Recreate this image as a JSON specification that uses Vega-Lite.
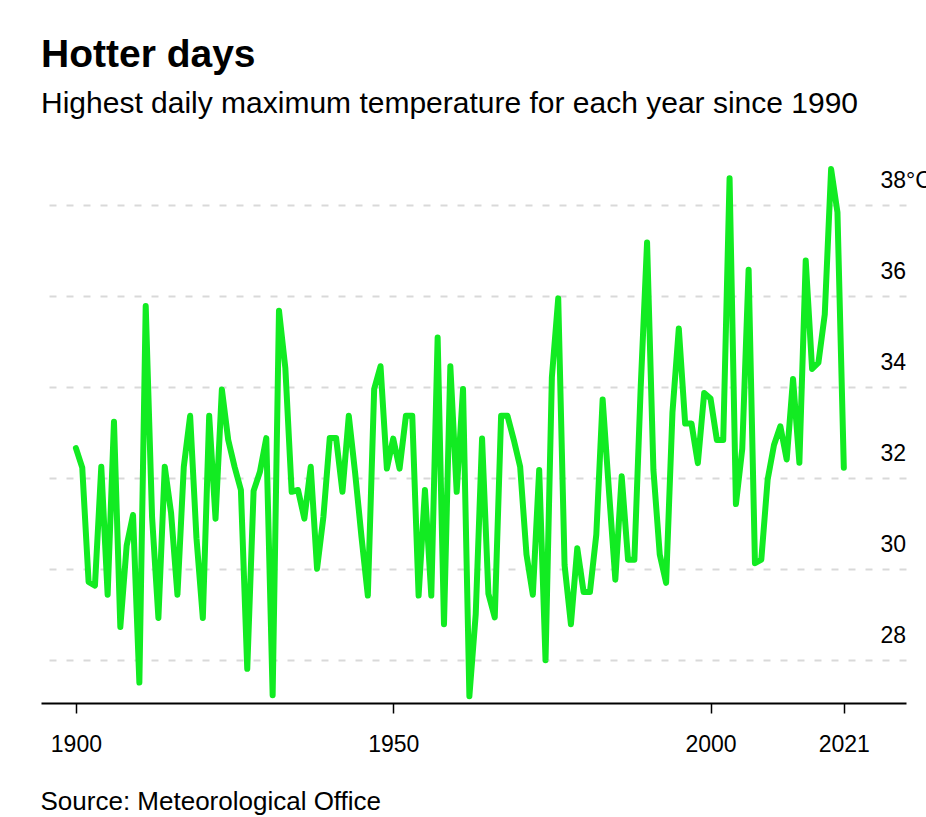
{
  "$schema": "https://vega.github.io/schema/vega-lite/v6.json",
  "width": 865,
  "height": 553,
  "autosize": {"type": "none"},
  "padding": {"left": 41, "right": 20, "top": 150, "bottom": 114},
  "background": "white",
  "config": {
    "font": "Liberation Sans",
    "view": {"stroke": null}
  },
  "title": {
    "text": "Hotter days",
    "subtitle": "Highest daily maximum temperature for each year since 1990",
    "anchor": "start",
    "frame": "group",
    "font": "Liberation Sans",
    "fontSize": 39,
    "fontWeight": "bold",
    "color": "#000000",
    "subtitleFont": "Liberation Sans",
    "subtitleFontSize": 30,
    "subtitleColor": "#000000",
    "subtitlePadding": 14,
    "offset": 31
  },
  "data": {
    "values": [
      {"year": 1900, "temp": 32.65}, {"year": 1901, "temp": 32.22}, {"year": 1902, "temp": 29.71}, {"year": 1903, "temp": 29.63},
      {"year": 1904, "temp": 32.24}, {"year": 1905, "temp": 29.43}, {"year": 1906, "temp": 33.23}, {"year": 1907, "temp": 28.72},
      {"year": 1908, "temp": 30.51}, {"year": 1909, "temp": 31.18}, {"year": 1910, "temp": 27.5}, {"year": 1911, "temp": 35.77},
      {"year": 1912, "temp": 31.14}, {"year": 1913, "temp": 28.92}, {"year": 1914, "temp": 32.24}, {"year": 1915, "temp": 31.22},
      {"year": 1916, "temp": 29.43}, {"year": 1917, "temp": 32.24}, {"year": 1918, "temp": 33.36}, {"year": 1919, "temp": 30.67},
      {"year": 1920, "temp": 28.92}, {"year": 1921, "temp": 33.36}, {"year": 1922, "temp": 31.1}, {"year": 1923, "temp": 33.94},
      {"year": 1924, "temp": 32.83}, {"year": 1925, "temp": 32.24}, {"year": 1926, "temp": 31.73}, {"year": 1927, "temp": 27.8},
      {"year": 1928, "temp": 31.71}, {"year": 1929, "temp": 32.13}, {"year": 1930, "temp": 32.87}, {"year": 1931, "temp": 27.22},
      {"year": 1932, "temp": 35.67}, {"year": 1933, "temp": 34.41}, {"year": 1934, "temp": 31.69}, {"year": 1935, "temp": 31.73},
      {"year": 1936, "temp": 31.1}, {"year": 1937, "temp": 32.24}, {"year": 1938, "temp": 30.0}, {"year": 1939, "temp": 31.14},
      {"year": 1940, "temp": 32.87}, {"year": 1941, "temp": 32.87}, {"year": 1942, "temp": 31.69}, {"year": 1943, "temp": 33.36},
      {"year": 1944, "temp": 32.1}, {"year": 1945, "temp": 30.7}, {"year": 1946, "temp": 29.41}, {"year": 1947, "temp": 33.95},
      {"year": 1948, "temp": 34.45}, {"year": 1949, "temp": 32.2}, {"year": 1950, "temp": 32.86}, {"year": 1951, "temp": 32.2},
      {"year": 1952, "temp": 33.36}, {"year": 1953, "temp": 33.36}, {"year": 1954, "temp": 29.41}, {"year": 1955, "temp": 31.73},
      {"year": 1956, "temp": 29.41}, {"year": 1957, "temp": 35.08}, {"year": 1958, "temp": 28.78}, {"year": 1959, "temp": 34.45},
      {"year": 1960, "temp": 31.69}, {"year": 1961, "temp": 33.95}, {"year": 1962, "temp": 27.2}, {"year": 1963, "temp": 29.0},
      {"year": 1964, "temp": 32.86}, {"year": 1965, "temp": 29.45}, {"year": 1966, "temp": 28.93}, {"year": 1967, "temp": 33.36},
      {"year": 1968, "temp": 33.36}, {"year": 1969, "temp": 32.83}, {"year": 1970, "temp": 32.24}, {"year": 1971, "temp": 30.31},
      {"year": 1972, "temp": 29.43}, {"year": 1973, "temp": 32.17}, {"year": 1974, "temp": 27.99}, {"year": 1975, "temp": 34.21},
      {"year": 1976, "temp": 35.94}, {"year": 1977, "temp": 30.08}, {"year": 1978, "temp": 28.78}, {"year": 1979, "temp": 30.45},
      {"year": 1980, "temp": 29.49}, {"year": 1981, "temp": 29.49}, {"year": 1982, "temp": 30.75}, {"year": 1983, "temp": 33.72},
      {"year": 1984, "temp": 31.7}, {"year": 1985, "temp": 29.76}, {"year": 1986, "temp": 32.03}, {"year": 1987, "temp": 30.2},
      {"year": 1988, "temp": 30.2}, {"year": 1989, "temp": 34.0}, {"year": 1990, "temp": 37.17}, {"year": 1991, "temp": 32.17},
      {"year": 1992, "temp": 30.31}, {"year": 1993, "temp": 29.69}, {"year": 1994, "temp": 33.43}, {"year": 1995, "temp": 35.28},
      {"year": 1996, "temp": 33.19}, {"year": 1997, "temp": 33.19}, {"year": 1998, "temp": 32.32}, {"year": 1999, "temp": 33.86},
      {"year": 2000, "temp": 33.74}, {"year": 2001, "temp": 32.83}, {"year": 2002, "temp": 32.83}, {"year": 2003, "temp": 38.58},
      {"year": 2004, "temp": 31.42}, {"year": 2005, "temp": 32.64}, {"year": 2006, "temp": 36.57}, {"year": 2007, "temp": 30.12},
      {"year": 2008, "temp": 30.2}, {"year": 2009, "temp": 31.96}, {"year": 2010, "temp": 32.72}, {"year": 2011, "temp": 33.13},
      {"year": 2012, "temp": 32.4}, {"year": 2013, "temp": 34.17}, {"year": 2014, "temp": 32.33}, {"year": 2015, "temp": 36.77},
      {"year": 2016, "temp": 34.39}, {"year": 2017, "temp": 34.53}, {"year": 2018, "temp": 35.59}, {"year": 2019, "temp": 38.78},
      {"year": 2020, "temp": 37.83}, {"year": 2021, "temp": 32.22}
    ]
  },
  "mark": {
    "type": "line",
    "color": "#12eb22",
    "strokeWidth": 6,
    "strokeCap": "round",
    "strokeJoin": "round"
  },
  "encoding": {
    "x": {
      "field": "year",
      "type": "quantitative",
      "scale": {"domain": [1894.5, 2030.8], "nice": false, "zero": false},
      "axis": {
        "values": [1900, 1950, 2000, 2021],
        "format": "d",
        "grid": false,
        "domainColor": "#000000",
        "domainWidth": 2,
        "tickColor": "#000000",
        "tickWidth": 1.5,
        "tickSize": 10,
        "labelFontSize": 23,
        "labelColor": "#000000",
        "labelPadding": 20,
        "labelFlush": false,
        "title": "Source: Meteorological Office",
        "titleFontSize": 26,
        "titleFontWeight": "normal",
        "titleColor": "#000000",
        "titleAnchor": "start",
        "titleAlign": "left",
        "titleBaseline": "alphabetic",
        "titleX": -1,
        "titleY": 106
      }
    },
    "y": {
      "field": "temp",
      "type": "quantitative",
      "scale": {"domain": [27.05, 39.2], "nice": false, "zero": false},
      "axis": {
        "orient": "right",
        "values": [28, 30, 32, 34, 36, 38],
        "labelExpr": "datum.value == 38 ? '38°C' : datum.label",
        "domain": false,
        "ticks": false,
        "grid": true,
        "gridColor": "#d9d9d9",
        "gridDash": [7, 10],
        "gridWidth": 2,
        "labelFontSize": 23,
        "labelColor": "#000000",
        "labelAlign": "left",
        "labelBaseline": "middle",
        "labelPadding": -26,
        "labelOffset": -24,
        "labelFlush": false,
        "title": null
      }
    }
  }
}
